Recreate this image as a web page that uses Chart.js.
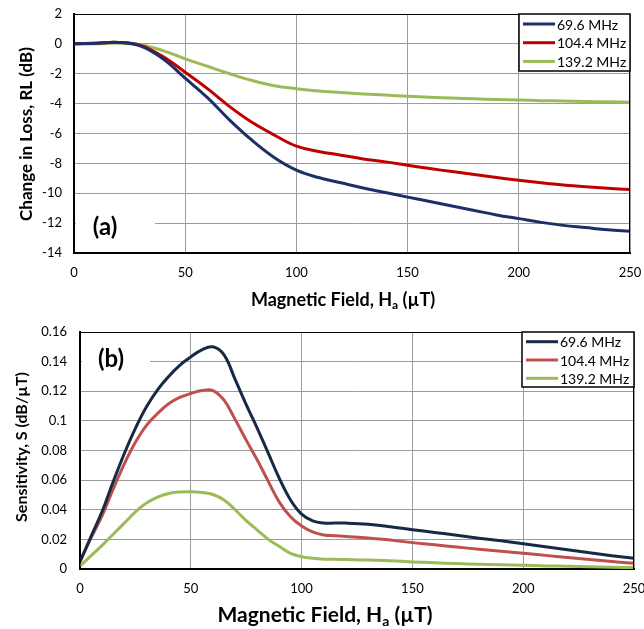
<!DOCTYPE html>
<html>
<head>
<meta charset="utf-8">
<script src="https://cdn.jsdelivr.net/npm/chart.js@4"></script>
<style>
body { margin: 0; background: #fff; }
#wrapA { position: absolute; left: 0; top: 0; width: 644px; height: 312px; }
#wrapB { position: absolute; left: 0; top: 312px; width: 644px; height: 317px; }
</style>
</head>
<body>
<div id="wrapA"><canvas id="chartA" width="644" height="312"></canvas></div>
<div id="wrapB"><canvas id="chartB" width="644" height="317"></canvas></div>
<script>
// ===== DATA =====
const seriesLabels = ["69.6 MHz", "104.4 MHz", "139.2 MHz"];

// (a) change in loss vs field
const fieldA = [0, 10, 20, 30, 40, 50, 60, 70, 80, 90, 100, 110, 120, 130, 140, 150, 160, 170, 180, 190, 200, 210, 220, 230, 240, 250];
const lossA696 = [0, 0.05, 0.1, -0.15, -1.0, -2.3, -3.6, -5.1, -6.45, -7.6, -8.45, -8.95, -9.3, -9.65, -9.95, -10.26, -10.55, -10.85, -11.15, -11.45, -11.7, -11.95, -12.15, -12.3, -12.45, -12.55];
const lossA1044 = [0, 0.05, 0.1, -0.1, -0.85, -1.9, -3.0, -4.2, -5.25, -6.1, -6.85, -7.2, -7.45, -7.7, -7.9, -8.13, -8.35, -8.55, -8.75, -8.95, -9.13, -9.3, -9.45, -9.57, -9.67, -9.75];
const lossA1392 = [0, 0, 0.05, -0.05, -0.45, -1.0, -1.5, -2.0, -2.45, -2.8, -3.0, -3.15, -3.25, -3.35, -3.43, -3.5, -3.57, -3.63, -3.68, -3.72, -3.76, -3.8, -3.83, -3.86, -3.88, -3.9];

// (b) sensitivity vs field
const fieldB = [0, 5, 10, 15, 20, 25, 30, 35, 40, 45, 50, 55, 60, 65, 70, 75, 80, 85, 90, 95, 100, 105, 110, 115, 120,
                130, 140, 150, 160, 170, 180, 190, 200, 210, 220, 230, 240, 250];
const sensB696 = [0.005, 0.022, 0.039, 0.059, 0.078, 0.095, 0.1095, 0.121, 0.130, 0.1375, 0.1432, 0.148, 0.150, 0.1445, 0.128, 0.111, 0.095, 0.078, 0.061, 0.0466, 0.037, 0.0325, 0.031, 0.031, 0.031,
                  0.0302, 0.0285, 0.0265, 0.0247, 0.0228, 0.0208, 0.019, 0.017, 0.015, 0.013, 0.011, 0.009, 0.0072];
const sensB1044 = [0.005, 0.021, 0.036, 0.054, 0.071, 0.0855, 0.097, 0.105, 0.1115, 0.1158, 0.1185, 0.1205, 0.1205, 0.114, 0.101, 0.087, 0.0736, 0.059, 0.045, 0.0353, 0.029, 0.025, 0.023, 0.0225, 0.022,
                   0.021, 0.0195, 0.0178, 0.0163, 0.0148, 0.0134, 0.012, 0.0106, 0.0092, 0.0078, 0.0064, 0.005, 0.0038];
const sensB1392 = [0.002, 0.009, 0.016, 0.0235, 0.031, 0.0385, 0.0445, 0.0485, 0.051, 0.052, 0.0522, 0.0517, 0.0503, 0.0466, 0.040, 0.0327, 0.0263, 0.020, 0.0152, 0.0106, 0.0083, 0.0072, 0.0066, 0.0065, 0.0064,
                   0.0061, 0.0055, 0.0048, 0.0042, 0.0037, 0.0032, 0.0028, 0.0025, 0.0021, 0.0018, 0.0015, 0.0012, 0.001];

const FONT = "Lato, 'Open Sans', sans-serif";
const GRID = "#9c9c9c";

// ===== extra drawing: frame, panel tag, boxed legend, axis titles =====
const panelDeco = {
    id: "panelDeco",
    beforeDatasetsDraw(chart, args, o) {
        const ctx = chart.ctx;
        ctx.save();
        ctx.fillStyle = "#fff";
        ctx.fillRect(o.tag.x, o.tag.y, o.tag.w, o.tag.h);
        ctx.fillStyle = "#000";
        ctx.font = "bold " + o.tag.size + "px " + FONT;
        ctx.textAlign = "center";
        ctx.textBaseline = "middle";
        ctx.fillText(o.tag.text, o.tag.cx, o.tag.cy);
        ctx.restore();
    },
    afterDraw(chart, args, o) {
        const ctx = chart.ctx, a = chart.chartArea;
        ctx.save();
        // frame
        ctx.strokeStyle = "#000";
        ctx.lineWidth = 1;
        ctx.strokeRect(a.left, a.top + 0.5, a.right - a.left - 0.5, a.bottom - a.top);

        // legend
        const lg = o.legend;
        ctx.fillStyle = "#fff";
        ctx.fillRect(lg.x, lg.y, lg.w, lg.h);
        ctx.lineWidth = 1.5;
        ctx.strokeRect(lg.x, lg.y, lg.w, lg.h);
        ctx.font = lg.size + "px " + FONT;
        ctx.textBaseline = "middle";
        ctx.textAlign = "left";
        chart.data.datasets.forEach((ds, i) => {
            const yy = lg.y + lg.first + i * lg.row;
            ctx.strokeStyle = ds.borderColor;
            ctx.lineWidth = 3;
            ctx.beginPath();
            ctx.moveTo(lg.x + 4, yy);
            ctx.lineTo(lg.x + 4 + lg.len, yy);
            ctx.stroke();
            ctx.fillStyle = "#000";
            ctx.fillText(ds.label, lg.x + 6 + lg.len, yy + 1);
        });

        // x title with subscript
        const t = o.xTitle;
        const big = "bold " + t.size + "px " + FONT;
        const small = "bold " + Math.round(t.size * 0.65) + "px " + FONT;
        const parts = [["Magnetic Field, H", big, 0], ["a", small, t.size * 0.3], [" (\u00b5T)", big, 0]];
        let total = 0;
        parts.forEach(p => { ctx.font = p[1]; total += ctx.measureText(p[0]).width; });
        let xx = t.cx - total / 2;
        ctx.fillStyle = "#000";
        parts.forEach(p => {
            ctx.font = p[1];
            ctx.fillText(p[0], xx, t.cy + p[2]);
            xx += ctx.measureText(p[0]).width;
        });

        // y title
        const yt = o.yTitle;
        ctx.translate(yt.cx, yt.cy);
        ctx.rotate(-Math.PI / 2);
        ctx.textAlign = "center";
        ctx.font = "bold " + yt.size + "px " + FONT;
        ctx.fillText(yt.text, 0, 0);
        ctx.restore();
    }
};

function makeChart(id, xs, ys, colors, yScale, pad, yWidth, xHeight, deco) {
    return new Chart(document.getElementById(id), {
        type: "line",
        data: {
            datasets: ys.map((arr, i) => ({
                label: seriesLabels[i],
                data: xs.map((x, j) => ({ x: x, y: arr[j] })),
                borderColor: colors[i],
                borderWidth: 3,
                pointRadius: 0,
                fill: false,
                tension: 0.4
            }))
        },
        options: {
            responsive: false,
            animation: false,
            layout: { padding: pad },
            plugins: {
                legend: { display: false },
                tooltip: { enabled: false },
                panelDeco: deco
            },
            scales: {
                x: {
                    type: "linear",
                    min: 0,
                    max: 250,
                    ticks: { stepSize: 50, color: "#000", font: { family: FONT, size: 13 }, padding: 12, maxRotation: 0 },
                    grid: { color: GRID, drawTicks: false },
                    border: { color: "#000", width: 2 },
                    afterFit: s => { s.height = xHeight; s.paddingLeft = 0; s.paddingRight = 0; }
                },
                y: Object.assign({
                    grid: { color: GRID, drawTicks: false },
                    border: { color: "#000", width: 2 },
                    afterFit: s => { s.width = yWidth; s.paddingTop = 0; s.paddingBottom = 0; }
                }, yScale)
            }
        },
        plugins: [panelDeco]
    });
}

// ===== GRAFIK (a) =====
makeChart("chartA", fieldA, [lossA696, lossA1044, lossA1392],
    ["#1c2f66", "#c00000", "#9bbb59"],
    {
        min: -14, max: 2,
        ticks: { stepSize: 2, color: "#000", font: { family: FONT, size: 13 }, padding: 12 }
    },
    { left: 0, right: 14, top: 14, bottom: 0 }, 74, 59,
    {
        tag: { x: 76, y: 206, w: 79, h: 44, text: "(a)", size: 24, cx: 105, cy: 227 },
        legend: { x: 519, y: 14, w: 111, h: 57, first: 10, row: 18.7, len: 32, size: 14 },
        xTitle: { cx: 343, cy: 300, size: 18 },
        yTitle: { cx: 27, cy: 134, size: 17, text: "Change in Loss, RL (dB)" }
    });

// ===== GRAFIK (b) =====
makeChart("chartB", fieldB, [sensB696, sensB1044, sensB1392],
    ["#172a45", "#c0504d", "#9bbb59"],
    {
        min: 0, max: 0.16,
        ticks: { stepSize: 0.02, color: "#000", font: { family: FONT, size: 13 }, padding: 13,
                 callback: v => String(+v.toFixed(2)) }
    },
    { left: 0, right: 10, top: 20, bottom: 0 }, 80, 60,
    {
        tag: { x: 82, y: 22, w: 68, h: 42, text: "(b)", size: 24, cx: 111, cy: 47 },
        legend: { x: 522, y: 20, w: 112, h: 55, first: 9.7, row: 18.3, len: 32, size: 14 },
        xTitle: { cx: 325, cy: 303, size: 21 },
        yTitle: { cx: 22, cy: 135, size: 16, text: "Sensitivity, S (dB/\u00b5T)" }
    });
</script>
</body>
</html>
